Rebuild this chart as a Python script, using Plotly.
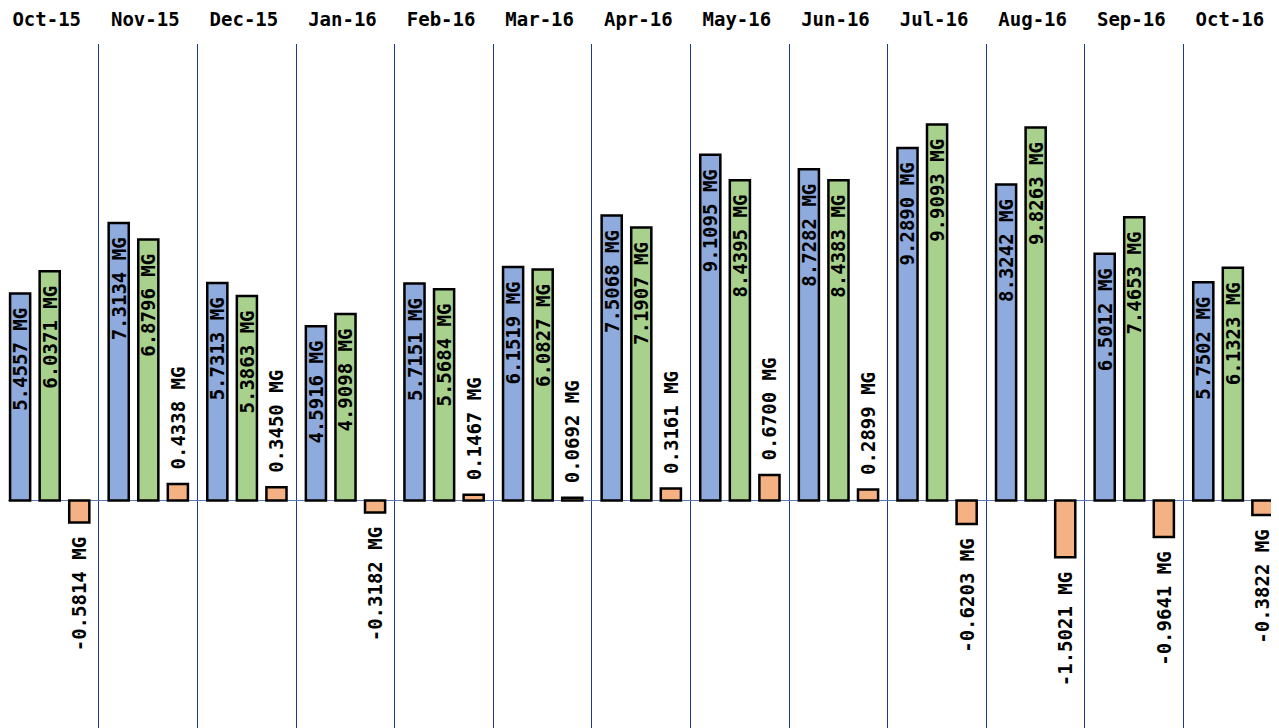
import plotly.graph_objects as go

months = ["Oct-15", "Nov-15", "Dec-15", "Jan-16", "Feb-16", "Mar-16", "Apr-16",
          "May-16", "Jun-16", "Jul-16", "Aug-16", "Sep-16", "Oct-16"]
blue_vals = [5.4557, 7.3134, 5.7313, 4.5916, 5.7151, 6.1519, 7.5068,
             9.1095, 8.7282, 9.2890, 8.3242, 6.5012, 5.7502]
green_vals = [6.0371, 6.8796, 5.3863, 4.9098, 5.5684, 6.0827, 7.1907,
              8.4395, 8.4383, 9.9093, 9.8263, 7.4653, 6.1323]
diff_vals = [-0.5814, 0.4338, 0.3450, -0.3182, 0.1467, 0.0692, 0.3161,
             0.6700, 0.2899, -0.6203, -1.5021, -0.9641, -0.3822]

NB = "\u00a0"
FONT = "DejaVu Sans Mono"

def inside_text(vals):
    return [f"<b>{v:.4f} MG</b>{NB}" for v in vals]

def outside_text(vals):
    out = []
    for v in vals:
        if v >= 0:
            out.append(f"{NB}<b>{v:.4f} MG</b>")
        else:
            out.append(f"<b>{v:.4f} MG</b>{NB}")
    return out

common = dict(textangle=-90, constraintext="none", cliponaxis=False,
              marker_line_color="black", marker_line_width=2.5,
              textfont=dict(family=FONT, size=19, color="black"))

fig = go.Figure()
fig.add_trace(go.Bar(x=months, y=blue_vals, text=inside_text(blue_vals),
                     textposition="inside", insidetextanchor="end",
                     marker_color="#8faadc", **common))
fig.add_trace(go.Bar(x=months, y=green_vals, text=inside_text(green_vals),
                     textposition="inside", insidetextanchor="end",
                     marker_color="#a9d18e", **common))
fig.add_trace(go.Bar(x=months, y=diff_vals, text=outside_text(diff_vals),
                     textposition="outside",
                     marker_color="#f4b183", **common))

fig.update_layout(
    width=1271, height=720,
    margin=dict(l=0, r=0, t=32, b=0),
    barmode="group", bargap=0.10, bargroupgap=0.32,
    plot_bgcolor="white", paper_bgcolor="white",
    showlegend=False,
    font=dict(family=FONT, color="black"),
)
fig.update_xaxes(side="top", tickson="boundaries", showgrid=True,
                 range=[-0.4229, 12.4681],
                 gridcolor="#1f3a8f", gridwidth=1, ticks="",
                 tickfont=dict(family=FONT, size=19, color="black"),
                 ticklabelstandoff=13, ticklabelshift=-3,
                 tickprefix="<b>", ticksuffix="</b>",
                 showline=False, zeroline=False)
fig.update_yaxes(range=[-6, 12.03], showgrid=False, showticklabels=False,
                 zeroline=True, zerolinecolor="#5b7bbd", zerolinewidth=1,
                 showline=False)

fig.write_html("out.html")
